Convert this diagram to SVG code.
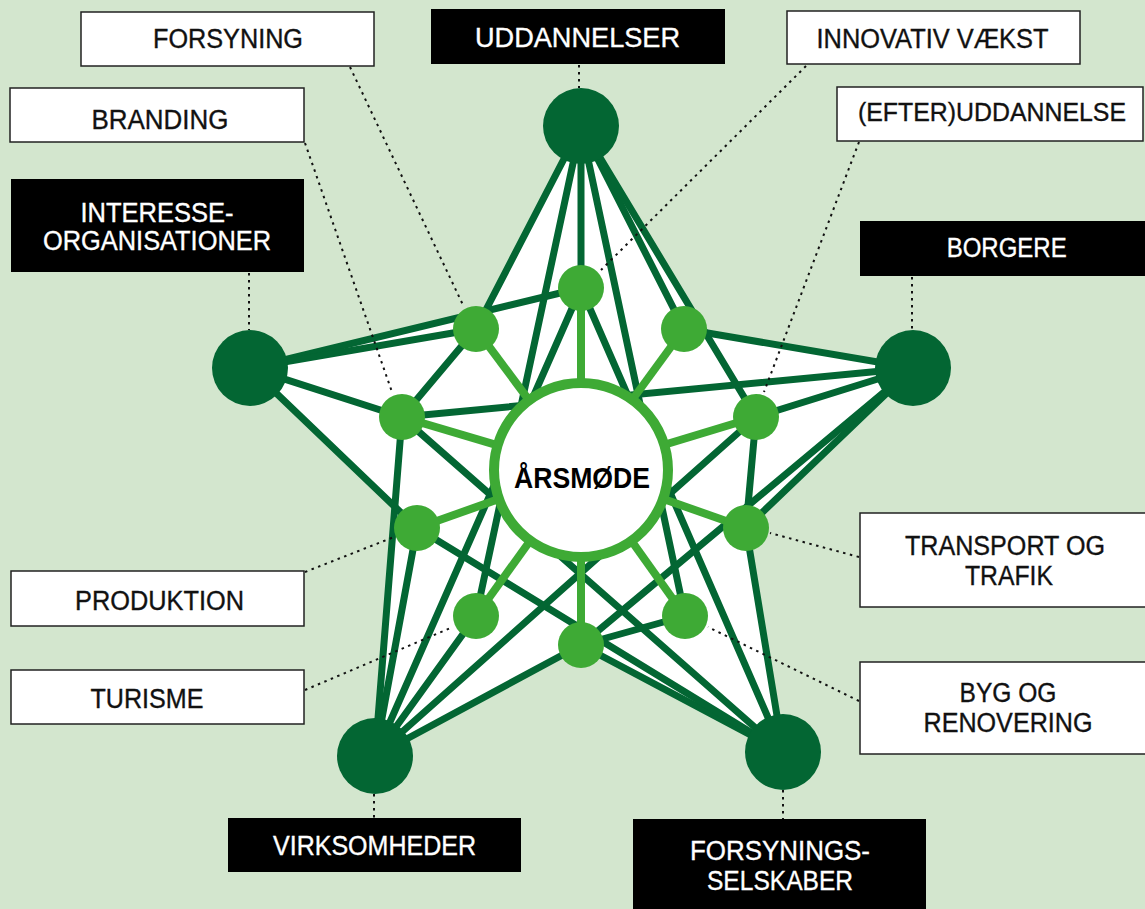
<svg xmlns="http://www.w3.org/2000/svg" width="1145" height="909" viewBox="0 0 1145 909">
<style>
.bg{fill:#d3e6ce}
.dk{stroke:#036633;stroke-width:7;fill:none;stroke-linecap:round}
.sp{stroke:#3eaa35;stroke-width:8;fill:none}
.outer{fill:#036633}
.inner{fill:#3eaa35}
.dot{stroke:#111;stroke-width:2;stroke-dasharray:2.5 4.5;fill:none}
.wbox{fill:#fff;stroke:#222;stroke-width:1.5}
.bbox{fill:#000}
.lbl{font-family:"Liberation Sans",Arial,sans-serif;font-size:27px;text-anchor:middle;stroke-width:0.35px}
.lw{fill:#fff;stroke:#fff}
.lb{fill:#111;stroke:#111}
</style>
<rect class="bg" x="0" y="0" width="1145" height="909"/>
<polygon id="star-fill" fill="#fff" points="581,126 705,333 913,368 746,528 783,752 581,645 375,756 395,507 250,368 485,311"/>
<g id="connectors">
<g class="dk">
<line x1="581" y1="126" x2="476" y2="329"/>
<line x1="581" y1="126" x2="581" y2="288"/>
<line x1="581" y1="126" x2="684" y2="329"/>
<line x1="581" y1="126" x2="756" y2="417"/>
<line x1="581" y1="126" x2="685" y2="616"/>
<line x1="581" y1="126" x2="476" y2="616"/>
<line x1="913" y1="368" x2="684" y2="329"/>
<line x1="913" y1="368" x2="756" y2="417"/>
<line x1="913" y1="368" x2="746" y2="528"/>
<line x1="913" y1="368" x2="581" y2="645"/>
<line x1="913" y1="368" x2="402" y2="417"/>
<line x1="783" y1="752" x2="581" y2="288"/>
<line x1="783" y1="752" x2="746" y2="528"/>
<line x1="783" y1="752" x2="581" y2="645"/>
<line x1="783" y1="752" x2="417" y2="528"/>
<line x1="783" y1="752" x2="402" y2="417"/>
<line x1="375" y1="756" x2="581" y2="288"/>
<line x1="375" y1="756" x2="756" y2="417"/>
<line x1="375" y1="756" x2="581" y2="645"/>
<line x1="375" y1="756" x2="476" y2="616"/>
<line x1="375" y1="756" x2="417" y2="528"/>
<line x1="375" y1="756" x2="402" y2="417"/>
<line x1="250" y1="368" x2="581" y2="288"/>
<line x1="250" y1="368" x2="476" y2="329"/>
<line x1="250" y1="368" x2="402" y2="417"/>
<line x1="250" y1="368" x2="417" y2="528"/>
<line x1="756" y1="417" x2="746" y2="528"/>
<line x1="685" y1="616" x2="581" y2="645"/>
<line x1="402" y1="417" x2="476" y2="329"/>
</g>
<g class="sp">
<line x1="581" y1="470" x2="581" y2="288"/>
<line x1="581" y1="470" x2="684" y2="329"/>
<line x1="581" y1="470" x2="756" y2="417"/>
<line x1="581" y1="470" x2="746" y2="528"/>
<line x1="581" y1="470" x2="685" y2="616"/>
<line x1="581" y1="470" x2="581" y2="645"/>
<line x1="581" y1="470" x2="476" y2="616"/>
<line x1="581" y1="470" x2="417" y2="528"/>
<line x1="581" y1="470" x2="402" y2="417"/>
<line x1="581" y1="470" x2="476" y2="329"/>
</g>
<g class="dot">
<line x1="350" y1="67" x2="463" y2="305"/>
<line x1="305" y1="143" x2="392" y2="392"/>
<line x1="249" y1="273" x2="249" y2="330"/>
<line x1="579" y1="65" x2="579" y2="88"/>
<line x1="806" y1="66" x2="601" y2="270"/>
<line x1="859" y1="142" x2="764" y2="392"/>
<line x1="912" y1="277" x2="912" y2="330"/>
<line x1="859" y1="557" x2="770" y2="533"/>
<line x1="859" y1="701" x2="708" y2="627"/>
<line x1="305" y1="572" x2="394" y2="537"/>
<line x1="305" y1="690" x2="453" y2="627"/>
<line x1="374" y1="794" x2="374" y2="818"/>
<line x1="783" y1="790" x2="783" y2="819"/>
</g>
</g>
<g id="center">
<circle cx="581" cy="470" r="87" fill="#fff" stroke="#3eaa35" stroke-width="10"/>
<text x="582" y="488" font-family="'Liberation Sans',Arial,sans-serif" font-weight="bold" font-size="30" text-anchor="middle" fill="#000" textLength="136" lengthAdjust="spacingAndGlyphs">ÅRSMØDE</text>
</g>
<g id="inner-nodes" class="inner">
<circle id="i0" cx="581" cy="288" r="23"/>
<circle id="i1" cx="684" cy="329" r="23"/>
<circle id="i2" cx="756" cy="417" r="23"/>
<circle id="i3" cx="746" cy="528" r="23"/>
<circle id="i4" cx="685" cy="616" r="23"/>
<circle id="i5" cx="581" cy="645" r="23"/>
<circle id="i6" cx="476" cy="616" r="23"/>
<circle id="i7" cx="417" cy="528" r="23"/>
<circle id="i8" cx="402" cy="417" r="23"/>
<circle id="i9" cx="476" cy="329" r="23"/>
</g>
<g id="outer-nodes" class="outer">
<circle id="o0" cx="581" cy="126" r="38"/>
<circle id="o1" cx="913" cy="368" r="38"/>
<circle id="o2" cx="783" cy="752" r="38"/>
<circle id="o3" cx="375" cy="756" r="38"/>
<circle id="o4" cx="250" cy="368" r="38"/>
</g>
<g id="forsyning"><rect class="wbox" x="81" y="12" width="293" height="54"/><text class="lbl lb" x="228" y="47.5" textLength="150" lengthAdjust="spacingAndGlyphs">FORSYNING</text></g>
<g id="branding"><rect class="wbox" x="10" y="88" width="294" height="54"/><text class="lbl lb" x="160" y="129" textLength="137" lengthAdjust="spacingAndGlyphs">BRANDING</text></g>
<g id="interesse"><rect class="bbox" x="11" y="179" width="293" height="93"/><text class="lbl lw" x="157" y="221.5" textLength="153" lengthAdjust="spacingAndGlyphs">INTERESSE-</text><text class="lbl lw" x="157" y="250" textLength="228" lengthAdjust="spacingAndGlyphs">ORGANISATIONER</text></g>
<g id="uddannelser"><rect class="bbox" x="431" y="9" width="294" height="55"/><text class="lbl lw" x="577.5" y="46.5" textLength="205" lengthAdjust="spacingAndGlyphs">UDDANNELSER</text></g>
<g id="innovativ"><rect class="wbox" x="787" y="11" width="293" height="53"/><text class="lbl lb" x="932.5" y="48" textLength="232" lengthAdjust="spacingAndGlyphs">INNOVATIV VÆKST</text></g>
<g id="efteruddannelse"><rect class="wbox" x="837" y="87" width="306" height="54"/><text class="lbl lb" x="992" y="120.7" style="font-size:25px" textLength="268" lengthAdjust="spacingAndGlyphs">(EFTER)UDDANNELSE</text></g>
<g id="borgere"><rect class="bbox" x="860" y="221" width="290" height="55"/><text class="lbl lw" x="1006.7" y="256.5" textLength="120" lengthAdjust="spacingAndGlyphs">BORGERE</text></g>
<g id="transport"><rect class="wbox" x="860" y="513" width="290" height="94"/><text class="lbl lb" x="1005" y="555" textLength="200" lengthAdjust="spacingAndGlyphs">TRANSPORT OG</text><text class="lbl lb" x="1009" y="585" textLength="88" lengthAdjust="spacingAndGlyphs">TRAFIK</text></g>
<g id="byg"><rect class="wbox" x="860" y="662" width="290" height="92"/><text class="lbl lb" x="1008" y="701.5" textLength="97" lengthAdjust="spacingAndGlyphs">BYG OG</text><text class="lbl lb" x="1008" y="731.5" textLength="169" lengthAdjust="spacingAndGlyphs">RENOVERING</text></g>
<g id="produktion"><rect class="wbox" x="11" y="571" width="293" height="55"/><text class="lbl lb" x="159.5" y="610" textLength="169" lengthAdjust="spacingAndGlyphs">PRODUKTION</text></g>
<g id="turisme"><rect class="wbox" x="11" y="670" width="293" height="54"/><text class="lbl lb" x="147" y="708" textLength="113" lengthAdjust="spacingAndGlyphs">TURISME</text></g>
<g id="virksomheder"><rect class="bbox" x="228" y="818" width="293" height="54"/><text class="lbl lw" x="374.5" y="855" textLength="203" lengthAdjust="spacingAndGlyphs">VIRKSOMHEDER</text></g>
<g id="forsyningsselskaber"><rect class="bbox" x="633" y="819" width="293" height="95"/><text class="lbl lw" x="780" y="860" textLength="180" lengthAdjust="spacingAndGlyphs">FORSYNINGS-</text><text class="lbl lw" x="780" y="890" textLength="146" lengthAdjust="spacingAndGlyphs">SELSKABER</text></g>
</svg>
